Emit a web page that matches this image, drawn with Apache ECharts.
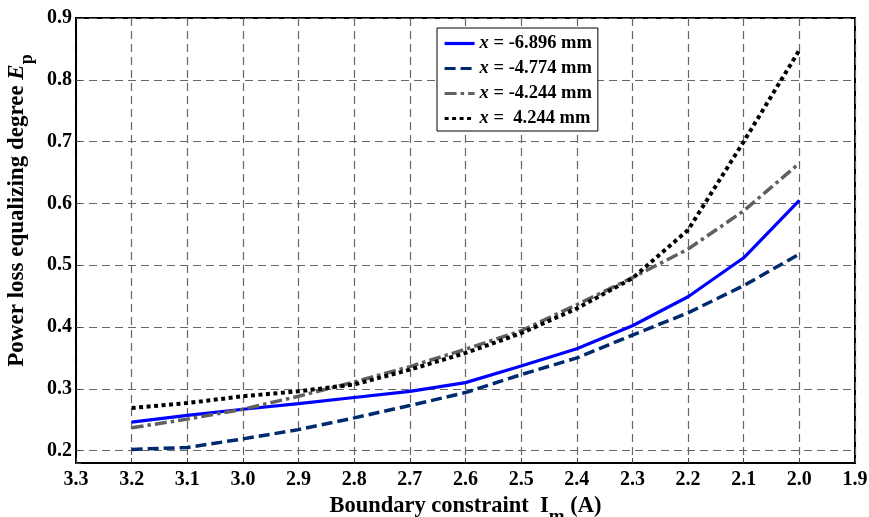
<!DOCTYPE html>
<html>
<head>
<meta charset="utf-8">
<script src="https://cdn.jsdelivr.net/npm/echarts@6/dist/echarts.min.js"></script>
<style>html,body{margin:0;padding:0;background:#fff}#c{width:869px;height:517px}</style>
</head>
<body>
<div id="c"></div>
<script>
const xValues = [3.2, 3.1, 3.0, 2.9, 2.8, 2.7, 2.6, 2.5, 2.4, 2.3, 2.2, 2.1, 2.0];
const seriesNames = ['x = -6.896 mm', 'x = -4.774 mm', 'x = -4.244 mm', 'x =  4.244 mm'];
const sA = [0.246, 0.257, 0.267, 0.276, 0.286, 0.296, 0.310, 0.337, 0.365, 0.402, 0.449, 0.512, 0.605];
const sB = [0.202, 0.205, 0.219, 0.234, 0.253, 0.273, 0.294, 0.323, 0.350, 0.387, 0.423, 0.467, 0.518];
const sC = [0.237, 0.251, 0.267, 0.288, 0.311, 0.336, 0.364, 0.394, 0.436, 0.480, 0.526, 0.588, 0.665];
const sD = [0.269, 0.277, 0.288, 0.296, 0.307, 0.331, 0.358, 0.390, 0.430, 0.479, 0.557, 0.700, 0.848];

const FONT = "'Liberation Serif', 'Times New Roman', serif";
const pair = arr => xValues.map((x, i) => [x, arr[i]]);
const styles = [
  {color: '#0000ff', type: 'solid', width: 3.2},
  {color: '#002a6e', type: [11, 5], width: 3.5},
  {color: '#606060', type: [12, 4, 3.5, 4], width: 3.5},
  {color: '#000000', type: [4, 3.5], width: 4}
];
const datas = [sA, sB, sC, sD];

const chart = echarts.init(document.getElementById('c'), null, {renderer: 'canvas'});
chart.setOption({
  animation: false,
  backgroundColor: '#fff',
  grid: {left: 76, right: 14, top: 18, bottom: 54, show: true, borderColor: '#000', borderWidth: 2,
    containLabel: false, outerBoundsMode: 'none'},
  legend: {
    orient: 'vertical', left: 437, top: 28,
    backgroundColor: '#fff', borderColor: '#000', borderWidth: 1,
    padding: [6, 6, 3, 6], itemWidth: 30, itemHeight: 14, itemGap: 6,
    data: seriesNames,
    itemStyle: {opacity: 0},
    lineStyle: {width: 3.2},
    formatter: n => '{i|x}{t|' + n.slice(1) + '}',
    textStyle: {
      rich: {
        i: {fontFamily: FONT, fontWeight: 'bold', fontStyle: 'italic', fontSize: 18.5, color: '#000'},
        t: {fontFamily: FONT, fontWeight: 'bold', fontSize: 18.5, color: '#000'}
      }
    }
  },
  xAxis: {
    type: 'value', min: 1.9, max: 3.3, interval: 0.1, inverse: true,
    name: '{t|Boundary constraint  I}{s|m}{t| (A)}',
    nameLocation: 'middle', nameGap: 20,
    nameTextStyle: {
      rich: {
        t: {fontFamily: FONT, fontWeight: 'bold', fontSize: 22.5, color: '#000'},
        s: {fontFamily: FONT, fontWeight: 'bold', fontSize: 19, color: '#000', padding: [22, 0, 0, 0]}
      }
    },
    axisLine: {show: true, lineStyle: {color: '#000', width: 2}},
    axisTick: {show: true, inside: true, length: 5, lineStyle: {color: '#444'}},
    axisLabel: {fontFamily: FONT, fontWeight: 'bold', fontSize: 20, color: '#000', margin: 7,
      formatter: v => v.toFixed(1)},
    splitLine: {show: true, lineStyle: {color: '#666', type: [8, 5], width: 1.2}}
  },
  yAxis: {
    type: 'value', min: 0.18, max: 0.9, splitNumber: 7,
    name: '{t|Power loss equalizing degree }{e|E}{s|p}',
    nameLocation: 'middle', nameGap: 39,
    nameTextStyle: {
      padding: [0, 0, 0, 60],
      rich: {
        t: {fontFamily: FONT, fontWeight: 'bold', fontSize: 23, color: '#000'},
        e: {fontFamily: FONT, fontWeight: 'bold', fontStyle: 'italic', fontSize: 23, color: '#000'},
        s: {fontFamily: FONT, fontWeight: 'bold', fontSize: 18, color: '#000', padding: [20, 0, 0, 0]}
      }
    },
    axisLine: {show: true, lineStyle: {color: '#000', width: 2}},
    axisTick: {show: true, inside: true, length: 5, lineStyle: {color: '#444'}},
    axisLabel: {fontFamily: FONT, fontWeight: 'bold', fontSize: 20, color: '#000', margin: 4,
      formatter: v => Math.abs(v * 10 - Math.round(v * 10)) < 1e-6 ? v.toFixed(1) : ''},
    splitLine: {show: true, lineStyle: {color: '#666', type: [8, 5], width: 1.2}}
  },
  series: seriesNames.map((n, k) => ({
    name: n, type: 'line', data: pair(datas[k]), symbol: 'none', smooth: false,
    lineStyle: {color: styles[k].color, type: styles[k].type, width: styles[k].width, cap: 'butt'},
    itemStyle: {color: styles[k].color},
    z: 3 + k
  }))
});
</script>
</body>
</html>
